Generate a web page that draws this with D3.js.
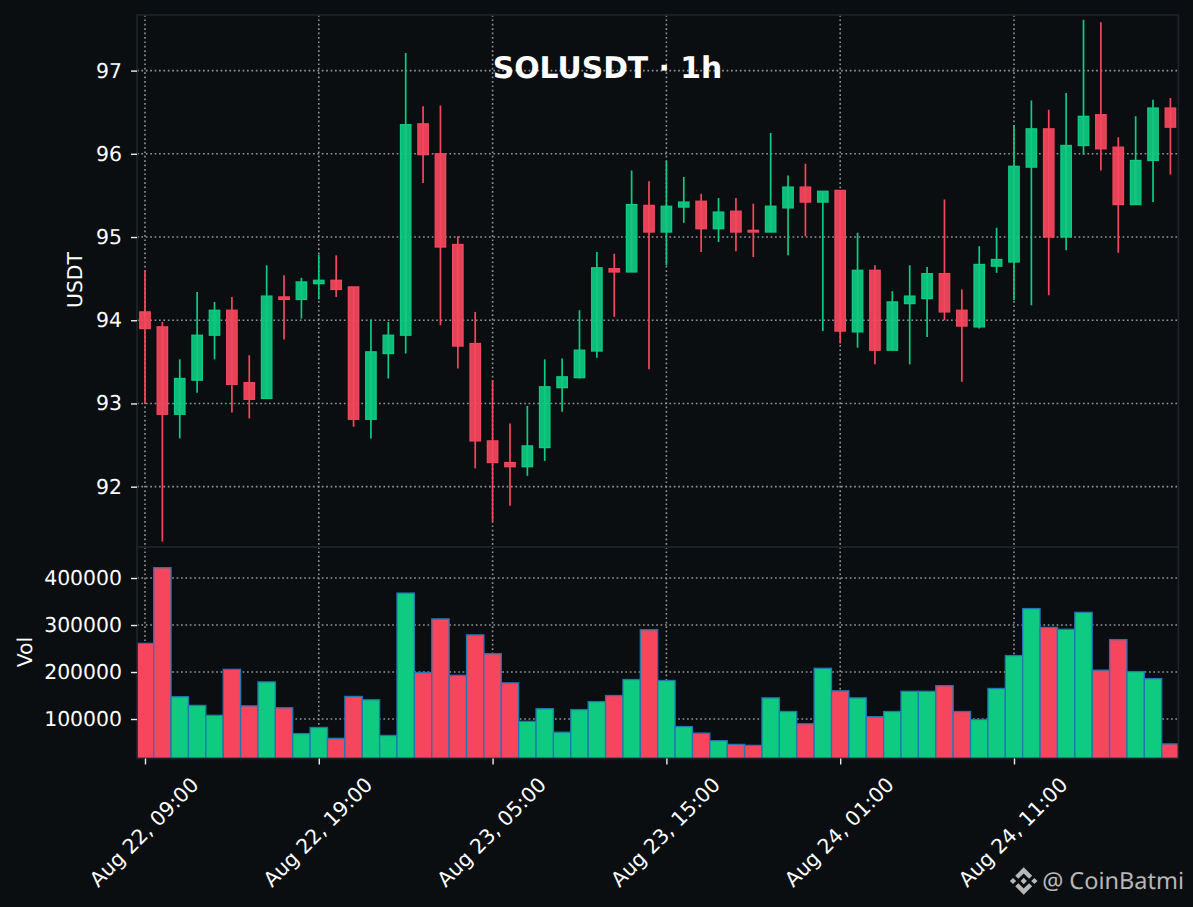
<!DOCTYPE html>
<html>
<head>
<meta charset="utf-8">
<script src="https://cdn.jsdelivr.net/npm/d3@7"></script>
<style>
html, body { margin: 0; padding: 0; background: #0b0e11; }
svg { display: block; }
text { font-family: "DejaVu Sans", sans-serif; text-rendering: geometricPrecision; }
</style>
</head>
<body>
<svg id="chart"></svg>
<script>
var width = 1193,
    height = 907;

// hourly candles
var opens = [94.10,93.92,92.87,93.28,93.82,94.12,93.25,93.06,94.28,94.25,94.44,94.48,94.40,92.81,93.60,
    93.82,96.36,96.00,94.91,93.72,92.55,92.29,92.24,92.47,93.19,93.31,93.63,94.62,94.58,95.38,
    95.06,95.36,95.43,95.10,95.31,95.08,95.06,95.35,95.60,95.42,95.56,93.86,94.60,93.64,94.20,
    94.26,94.56,94.12,93.92,94.65,94.70,95.84,96.30,95.00,96.10,96.47,96.08,95.39,95.92,96.55];
var highs = [94.60,93.98,93.53,94.34,94.22,94.28,93.58,94.66,94.54,94.51,94.79,94.78,94.40,94.01,93.98,
    97.21,96.57,96.58,95.01,94.10,93.28,92.76,92.97,93.53,93.54,94.12,94.82,94.80,95.80,95.67,
    95.91,95.72,95.52,95.47,95.47,95.40,96.25,95.74,95.88,95.55,95.56,95.05,94.66,94.35,94.66,
    94.64,95.45,94.37,94.89,95.11,96.34,96.64,96.53,96.73,97.61,97.58,96.20,96.45,96.65,96.67];
var lows = [93.00,91.34,92.58,93.13,93.53,92.89,92.82,93.06,93.77,94.02,94.25,94.28,92.72,92.58,93.30,
    93.60,95.65,93.94,93.42,92.22,91.58,91.77,92.13,92.31,92.90,93.30,93.55,94.04,94.58,93.41,
    94.66,95.17,94.82,94.94,94.83,94.76,95.06,94.78,95.01,93.87,93.72,93.67,93.47,93.64,93.47,
    93.80,94.00,93.26,93.90,94.57,94.24,94.18,94.30,94.84,95.99,95.80,94.81,95.39,95.42,95.75];
var closes = [93.90,92.87,93.30,93.82,94.12,93.23,93.05,94.29,94.25,94.46,94.48,94.37,92.81,93.62,93.82,
    96.35,95.99,94.88,93.69,92.55,92.29,92.24,92.49,93.20,93.32,93.64,94.63,94.58,95.39,95.06,
    95.37,95.42,95.10,95.30,95.06,95.06,95.37,95.60,95.42,95.55,93.87,94.60,93.64,94.22,94.29,
    94.56,94.10,93.93,94.67,94.73,95.85,96.30,95.00,96.10,96.45,96.06,95.39,95.92,96.55,96.32];
var volumes = [261000,422000,147500,129000,108000,205700,128000,179000,124000,69000,82000,59000,148000,141000,65000,
    368000,199000,313000,193000,279000,239000,177000,95000,122000,72000,120000,137000,150000,184000,290000,
    182000,84000,70000,54000,46000,44000,145000,116000,90000,208000,160000,145000,105000,116000,159000,
    159000,171000,116000,99000,165000,235000,335000,295000,291000,327000,204000,269000,201000,186000,47000];

var xTickIndex = [0, 10, 20, 30, 40, 50];
var xTickLabels = ["Aug 22, 09:00", "Aug 22, 19:00", "Aug 23, 05:00", "Aug 23, 15:00", "Aug 24, 01:00", "Aug 24, 11:00"];
var priceTicks = [92, 93, 94, 95, 96, 97];
var volTicks = [100000, 200000, 300000, 400000];

var bg = "#0b0e11",
    up = "#0ecb81",
    down = "#f6465d",
    spine = "#1e2329",
    textColor = "#ffffff";

var plotLeft = 137, plotRight = 1178.4, plotTop = 15, plotMid = 547, plotBottom = 758.5;

var x = d3.scaleLinear().domain([-0.46, 59.46]).range([plotLeft, plotRight]);
var y = d3.scaleLinear().domain([91.275, 97.668]).range([plotMid, plotTop]);
var yVol = d3.scaleLinear().domain([16000, 466000]).range([plotBottom, plotMid]);

var svg = d3.select("#chart")
    .attr("width", width)
    .attr("height", height)
    .attr("viewBox", "0 0 " + width + " " + height);

svg.append("rect").attr("width", width).attr("height", height).attr("fill", bg);

var defs = svg.append("defs");
defs.append("clipPath").attr("id", "clipPrice").append("rect")
    .attr("x", plotLeft).attr("y", plotTop).attr("width", plotRight - plotLeft).attr("height", plotMid - plotTop);
defs.append("clipPath").attr("id", "clipVol").append("rect")
    .attr("x", plotLeft).attr("y", plotMid).attr("width", plotRight - plotLeft).attr("height", plotBottom - plotMid);

// helper so both panels get the same dotted grid
function grid(g, yScale, ticks, y0, y1) {
    g.selectAll("line.h").data(ticks).enter().append("line")
        .attr("class", "h")
        .attr("x1", plotLeft).attr("x2", plotRight)
        .attr("y1", function(d) { return yScale(d); })
        .attr("y2", function(d) { return yScale(d); });
    g.selectAll("line.v").data(xTickIndex).enter().append("line")
        .attr("class", "v")
        .attr("x1", function(d) { return x(d); })
        .attr("x2", function(d) { return x(d); })
        .attr("y1", y0).attr("y2", y1);
    g.selectAll("line")
        .attr("stroke", "#909396")
        .attr("stroke-width", 1.6)
        .attr("stroke-dasharray", "1.7 2.7");
}

grid(svg.append("g"), y, priceTicks, plotTop, plotMid);
grid(svg.append("g"), yVol, volTicks, plotMid, plotBottom);

var idx = d3.range(opens.length);
function candleColor(i) { return closes[i] >= opens[i] ? up : down; }

// wicks
var price = svg.append("g").attr("clip-path", "url(#clipPrice)");
price.selectAll("line").data(idx).enter().append("line")
    .attr("x1", function(i) { return x(i); })
    .attr("x2", function(i) { return x(i); })
    .attr("y1", function(i) { return y(highs[i]); })
    .attr("y2", function(i) { return y(lows[i]); })
    .attr("stroke", candleColor)
    .attr("stroke-width", 1.7);

// bodies
var bodyW = x(0.6) - x(0);
price.selectAll("rect").data(idx).enter().append("rect")
    .attr("x", function(i) { return x(i) - bodyW / 2; })
    .attr("width", bodyW)
    .attr("y", function(i) { return y(Math.max(opens[i], closes[i])); })
    .attr("height", function(i) { return Math.abs(y(opens[i]) - y(closes[i])); })
    .attr("fill", candleColor)
    .attr("fill-opacity", 0.92)
    .attr("stroke", candleColor)
    .attr("stroke-width", 1.3);

// volume bars
var barW = x(1) - x(0);
svg.append("g").attr("clip-path", "url(#clipVol)")
    .selectAll("rect").data(idx).enter().append("rect")
    .attr("x", function(i) { return x(i) - barW / 2; })
    .attr("width", barW)
    .attr("y", function(i) { return yVol(volumes[i]); })
    .attr("height", function(i) { return yVol.range()[0] - yVol(volumes[i]); })
    .attr("fill", candleColor)
    .attr("stroke", "#1f77b4")
    .attr("stroke-width", 1.3);

// spines
[[plotTop, plotMid], [plotMid, plotBottom]].forEach(function(p) {
    svg.append("rect")
        .attr("x", plotLeft).attr("y", p[0])
        .attr("width", plotRight - plotLeft).attr("height", p[1] - p[0])
        .attr("fill", "none")
        .attr("stroke", spine)
        .attr("stroke-width", 1.7);
});

// axes
function styleAxis(g) {
    g.select(".domain").remove();
    g.selectAll(".tick line").attr("stroke", "#eaecef").attr("stroke-width", 1.4);
    g.selectAll(".tick text")
        .attr("fill", textColor)
        .style("font-size", "20.4px")
        .style("font-family", '"DejaVu Sans", sans-serif');
}

svg.append("g")
    .attr("transform", "translate(" + plotLeft + ",0)")
    .call(d3.axisLeft(y).tickValues(priceTicks).tickSize(6).tickPadding(9).tickFormat(d3.format("d")))
    .call(styleAxis);

svg.append("g")
    .attr("transform", "translate(" + plotLeft + ",0)")
    .call(d3.axisLeft(yVol).tickValues(volTicks).tickSize(6).tickPadding(9).tickFormat(d3.format("d")))
    .call(styleAxis);

var xAxis = svg.append("g")
    .attr("transform", "translate(0," + plotBottom + ")")
    .call(d3.axisBottom(x).tickValues(xTickIndex).tickSize(6)
        .tickFormat(function(d) { return xTickLabels[xTickIndex.indexOf(d)]; }))
    .call(styleAxis);

// rotated 45 degrees about the label centre
xAxis.selectAll(".tick text")
    .attr("text-anchor", "middle")
    .attr("x", 0)
    .attr("y", 0)
    .attr("dy", "0.35em")
    .attr("transform", "translate(-1.5,73.5) rotate(-45)");

// axis titles
svg.append("text")
    .attr("transform", "translate(75,280) rotate(-90)")
    .attr("text-anchor", "middle")
    .attr("dy", "0.35em")
    .attr("fill", textColor)
    .style("font-size", "20.4px")
    .text("USDT");

svg.append("text")
    .attr("transform", "translate(25,652) rotate(-90)")
    .attr("text-anchor", "middle")
    .attr("dy", "0.35em")
    .attr("fill", textColor)
    .style("font-size", "20.4px")
    .text("Vol");

svg.append("text")
    .attr("x", 607.5)
    .attr("y", 67.6)
    .attr("text-anchor", "middle")
    .attr("dy", "0.35em")
    .attr("fill", textColor)
    .style("font-size", "29.8px")
    .style("font-weight", "bold")
    .text("SOLUSDT · 1h");

// watermark: diamond logo plus handle
svg.append("path")
    .attr("transform", "translate(1009.9,867.2) scale(0.218)")
    .attr("fill", "#b7b7b7")
    .attr("d", "M38.73 53.2l24.59-24.58 24.6 24.6 14.3-14.31L63.32 0 24.43 38.9zM0 63.31l14.3-14.31 14.31 14.31-14.31 14.3zM38.73 73.41L63.32 98l24.6-24.6 14.31 14.29-38.9 38.91-38.91-38.88zM98 63.31L112.3 49l14.3 14.3-14.3 14.32zM77.83 63.3L63.32 48.78 52.59 59.51l-1.24 1.23-2.54 2.54 14.51 14.5L77.83 63.3z");

svg.append("text")
    .attr("x", 1184)
    .attr("y", 881)
    .attr("text-anchor", "end")
    .attr("dy", "0.35em")
    .attr("fill", "#b7b7b7")
    .style("font-family", '"Noto Sans", sans-serif')
    .style("font-size", "23.5px")
    .text("@ CoinBatmi");
</script>
</body>
</html>
